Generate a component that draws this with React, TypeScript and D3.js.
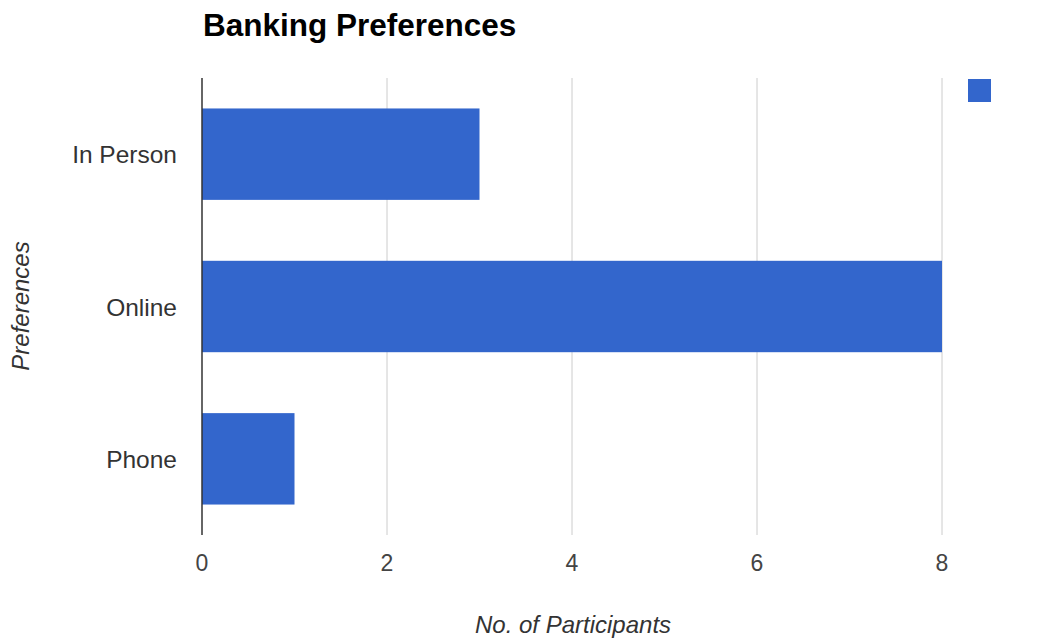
import React from "react";
import * as d3 from "d3";

const categories = ["In Person", "Online", "Phone"];
const values = [3, 8, 1];
const xTicks = [0, 2, 4, 6, 8];
const title = "Banking Preferences";
const xTitle = "No. of Participants";
const yTitle = "Preferences";

const W = 1038;
const H = 641;
const left = 202;
const right = 942;
const top = 78;
const bottom = 535;
const font = "Arial, 'Liberation Sans', sans-serif";

export default function App() {
  const x = d3.scaleLinear().domain([0, 8]).range([left, right]);
  const y = d3.scaleBand().domain(categories).range([top, bottom]).paddingInner(0.4).paddingOuter(0.2);
  return (
    <svg width={W} height={H} style={{ position: "absolute", left: 0, top: 0, background: "#fff" }}>
      <text x={203} y={36} fontFamily={font} fontWeight="bold" fontSize={31.5} fill="#000">{title}</text>
      {xTicks.map((t) => (
        <g key={t}>
          {t !== 0 && <line x1={x(t)} x2={x(t)} y1={top} y2={bottom} stroke="#ccc" strokeWidth={1} />}
          <text x={x(t)} y={571} textAnchor="middle" fontFamily={font} fontSize={23} fill="#444">{t}</text>
        </g>
      ))}
      {categories.map((c, i) => (
        <g key={c}>
          <rect x={x(0)} y={y(c)!} width={x(values[i]) - x(0)} height={y.bandwidth()} fill="#3366cc" />
          <text x={177} y={y(c)! + y.bandwidth() / 2 + 9} textAnchor="end" fontFamily={font} fontSize={24.5} fill="#333">{c}</text>
        </g>
      ))}
      <line x1={left} x2={left} y1={top} y2={bottom} stroke="#333" strokeWidth={1.5} />
      <rect x={968} y={79} width={23} height={23} fill="#3366cc" />
      <text x={573} y={633} textAnchor="middle" fontFamily={font} fontStyle="italic" fontSize={24} fill="#333">{xTitle}</text>
      <text transform={`translate(29,306) rotate(-90)`} textAnchor="middle" fontFamily={font} fontStyle="italic" fontSize={24} fill="#333">{yTitle}</text>
    </svg>
  );
}
